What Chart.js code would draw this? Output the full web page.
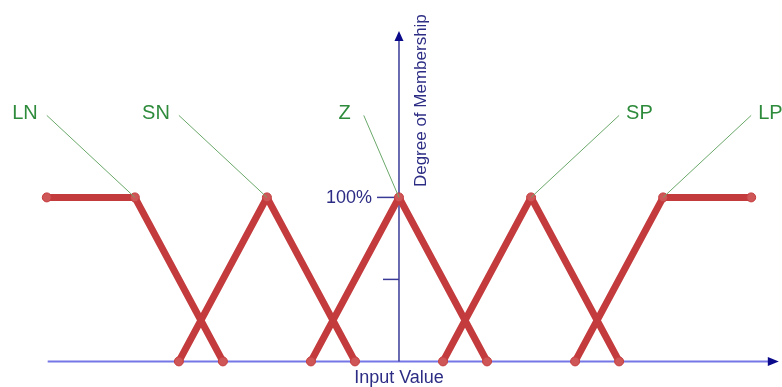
<!DOCTYPE html>
<html>
<head>
<meta charset="utf-8">
<script src="https://cdn.jsdelivr.net/npm/chart.js@4"></script>
<style>
  html, body { margin: 0; padding: 0; background: #fff; }
  #wrap { width: 782px; height: 387px; }
</style>
</head>
<body>
<div id="wrap"><canvas id="fuzzy" width="782" height="387"></canvas></div>
<script>
// ── data ────────────────────────────────────────────────
const LN_X = [-8, -6, -4], LN_Y = [1, 1, 0];
const SN_X = [-5, -3, -1], SN_Y = [0, 1, 0];
const Z_X  = [-2,  0,  2], Z_Y  = [0, 1, 0];
const SP_X = [ 1,  3,  5], SP_Y = [0, 1, 0];
const LP_X = [ 4,  6,  8], LP_Y = [0, 1, 1];

const setNames     = ["LN", "SN", "Z", "SP", "LP"];
const calloutFromX = [-8, -5, -0.8, 5, 8];   // where the label's leader line starts
const calloutToX   = [-6, -3, 0, 3, 6];      // the shoulder / peak it points at
const calloutFromY = 1.5;
const calloutToY   = 1;

const yTickValues = [0.5, 1];
const yTickLabels = ["", "100%"];
const xAxisTitle  = "Input Value";
const yAxisTitle  = "Degree of Membership";

// ── colours ─────────────────────────────────────────────
const RED        = "#c43b3d";
const RED_POINT  = "#cf5656";
const GREEN_TEXT = "#2e8b3c";
const GREEN_LINE = "#6aa86a";
const NAVY       = "#2c2c84";
const X_AXIS_CLR = "#7676e6";
const Y_AXIS_CLR = "#3a3a96";
const ARROW_CLR  = "#0a0a8a";

const zip = (xs, ys) => xs.map((x, i) => ({ x, y: ys[i] }));

const memberSets = [
  [LN_X, LN_Y], [SN_X, SN_Y], [Z_X, Z_Y], [SP_X, SP_Y], [LP_X, LP_Y],
].map(([xs, ys], i) => ({
  label: setNames[i],
  data: zip(xs, ys),
  showLine: true,
  borderColor: RED,
  borderWidth: 7,
  borderCapStyle: "round",
  borderJoinStyle: "round",
  pointRadius: 4.5,
  pointBackgroundColor: RED_POINT,
  pointBorderColor: RED,
  pointBorderWidth: 1,
  tension: 0,
  order: 2,
}));

const callouts = setNames.map((name, i) => ({
  label: name + " callout",
  data: [{ x: calloutFromX[i], y: calloutFromY }, { x: calloutToX[i], y: calloutToY }],
  showLine: true,
  borderColor: GREEN_LINE,
  borderWidth: 1,
  pointRadius: 0,
  order: 1,
}));

// ── axes with arrows, drawn under the datasets ──────────
const arrowAxes = {
  id: "arrowAxes",
  beforeDatasetsDraw(chart) {
    const { ctx, scales: { x, y } } = chart;
    const x0 = x.getPixelForValue(0), y0 = y.getPixelForValue(0);
    const xl = x.getPixelForValue(-7.98), xr = x.getPixelForValue(8.4);
    const yt = y.getPixelForValue(1.96);
    ctx.save();

    // x axis
    ctx.strokeStyle = X_AXIS_CLR;
    ctx.lineWidth = 2;
    ctx.beginPath(); ctx.moveTo(xl, y0); ctx.lineTo(xr, y0); ctx.stroke();
    ctx.fillStyle = ARROW_CLR;
    ctx.beginPath();
    ctx.moveTo(xr + 10, y0); ctx.lineTo(xr - 1, y0 - 4.5); ctx.lineTo(xr - 1, y0 + 4.5);
    ctx.closePath(); ctx.fill();

    // y axis
    ctx.strokeStyle = Y_AXIS_CLR;
    ctx.lineWidth = 1.5;
    ctx.beginPath(); ctx.moveTo(x0, y0); ctx.lineTo(x0, yt); ctx.stroke();
    ctx.beginPath();
    ctx.moveTo(x0, yt - 9); ctx.lineTo(x0 - 4.5, yt + 1); ctx.lineTo(x0 + 4.5, yt + 1);
    ctx.closePath(); ctx.fill();

    // y ticks + labels
    ctx.font = "18px 'Liberation Sans', Arial, sans-serif";
    ctx.textAlign = "right";
    ctx.textBaseline = "middle";
    yTickValues.forEach((v, i) => {
      const py = y.getPixelForValue(v);
      const len = yTickLabels[i] ? 22 : 16;
      ctx.strokeStyle = Y_AXIS_CLR;
      ctx.beginPath(); ctx.moveTo(x0 - len, py); ctx.lineTo(x0, py); ctx.stroke();
      if (yTickLabels[i]) {
        ctx.fillStyle = NAVY;
        ctx.fillText(yTickLabels[i], x0 - len - 5, py + 1);
      }
    });

    // axis titles
    ctx.fillStyle = NAVY;
    ctx.textAlign = "center";
    ctx.fillText(xAxisTitle, x0, y0 + 17);

    ctx.save();
    ctx.translate(x0 + 22, y.getPixelForValue(1.59));
    ctx.rotate(-Math.PI / 2);
    ctx.font = "17px 'Liberation Sans', Arial, sans-serif";
    ctx.fillText(yAxisTitle, 0, 0);
    ctx.restore();

    ctx.restore();
  },
};

// ── set names at the end of each leader line ────────────
const setLabels = {
  id: "setLabels",
  afterDatasetsDraw(chart) {
    const { ctx, scales: { x, y } } = chart;
    ctx.save();
    ctx.font = "20px 'Liberation Sans', Arial, sans-serif";
    ctx.fillStyle = GREEN_TEXT;
    ctx.textBaseline = "middle";
    setNames.forEach((name, i) => {
      const px = x.getPixelForValue(calloutFromX[i]);
      const py = y.getPixelForValue(calloutFromY) - 2;
      const leftSide = calloutFromX[i] < calloutToX[i] || i === 2;
      ctx.textAlign = leftSide ? "right" : "left";
      ctx.fillText(name, leftSide ? px - (i === 2 ? 13 : 9) : px + 7, py);
    });
    ctx.restore();
  },
};

new Chart(document.getElementById("fuzzy"), {
  type: "scatter",
  data: { datasets: [...callouts, ...memberSets] },
  options: {
    responsive: false,
    animation: false,
    devicePixelRatio: 1,
    layout: { autoPadding: false, padding: { left: 38, right: 0, top: 17, bottom: 1 } },
    plugins: { legend: { display: false }, tooltip: { enabled: false } },
    scales: {
      x: { type: "linear", min: -8.2, max: 8.7, display: false },
      y: { type: "linear", min: -0.15, max: 2.1, display: false },
    },
  },
  plugins: [arrowAxes, setLabels],
});
</script>
</body>
</html>
